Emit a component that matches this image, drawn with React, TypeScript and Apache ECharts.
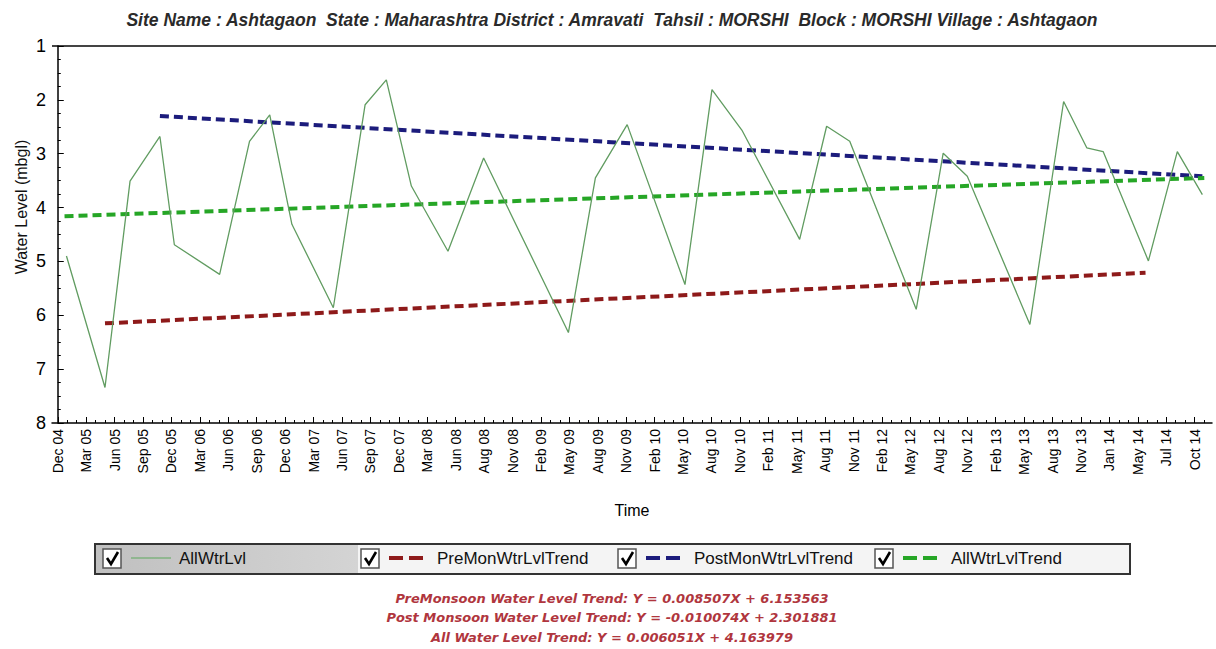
import React, { useEffect, useRef } from 'react';
import * as echarts from 'echarts';

// ---------- data ----------
const titleText =
  'Site Name : Ashtagaon  State : Maharashtra District : Amravati  Tahsil : MORSHI  Block : MORSHI Village : Ashtagaon';

// x-axis tick labels (evenly spaced along the time axis)
const xLabels = [
  'Dec 04', 'Mar 05', 'Jun 05', 'Sep 05', 'Dec 05', 'Mar 06', 'Jun 06', 'Sep 06', 'Dec 06',
  'Mar 07', 'Jun 07', 'Sep 07', 'Dec 07', 'Mar 08', 'Jun 08', 'Aug 08', 'Nov 08', 'Feb 09',
  'May 09', 'Aug 09', 'Nov 09', 'Feb 10', 'May 10', 'Aug 10', 'Nov 10', 'Feb 11', 'May 11',
  'Aug 11', 'Nov 11', 'Feb 12', 'May 12', 'Aug 12', 'Nov 12', 'Feb 13', 'May 13', 'Aug 13',
  'Nov 13', 'Jan 14', 'May 14', 'Jul 14', 'Oct 14',
];
const labelStep = 2.95; // months between labels
const xMin = -0.6; // months since Dec 2004
const xMax = 119.8;

// observed water level (months since Dec 2004, mbgl)
const obsMonths = [
  0.9, 4.9, 7.5, 10.6, 12.1, 16.8, 19.9, 22.0, 24.3, 28.6, 31.9, 34.1, 36.7, 40.5, 44.2,
  53.0, 55.8, 59.1, 65.1, 67.9, 71.0, 77.0, 79.8, 82.2, 89.1, 91.9, 94.4, 100.9, 104.4,
  106.8, 108.5, 113.2, 116.2, 118.8,
];
const obsLevels = [
  4.9, 7.34, 3.51, 2.68, 4.69, 5.24, 2.77, 2.28, 4.31, 5.86, 2.09, 1.63, 3.6, 4.81, 3.08,
  6.32, 3.45, 2.46, 5.43, 1.81, 2.56, 4.59, 2.49, 2.77, 5.89, 2.99, 3.42, 6.17, 2.03,
  2.89, 2.96, 4.99, 2.96, 3.76,
];

// trend lines (start / end)
const preTrendMonths = [4.9, 112.9];
const preTrendLevels = [6.15, 5.21];
const postTrendMonths = [10.6, 118.8];
const postTrendLevels = [2.3, 3.42];
const allTrendMonths = [0.7, 119.0];
const allTrendLevels = [4.16, 3.45];

const seriesNames = ['AllWtrLvl', 'PreMonWtrLvlTrend', 'PostMonWtrLvlTrend', 'AllWtrLvlTrend'];
const seriesColors = ['#619c61', '#8e1a1a', '#1c1c7c', '#26a626'];

const equations = [
  'PreMonsoon Water Level Trend: Y = 0.008507X + 6.153563',
  'Post Monsoon Water Level Trend: Y = -0.010074X + 2.301881',
  'All Water Level Trend: Y = 0.006051X + 4.163979',
];

const yAxisName = 'Water Level (mbgl)';
const xAxisName = 'Time';

// ---------- helpers ----------
const zip = (xs: number[], ys: number[]) => xs.map((x, i) => [x, ys[i]]);

const FONT = '"Liberation Sans", Arial, sans-serif';

function buildLegend() {
  const cbXs = [103, 361, 618, 875];
  const children: any[] = [
    {
      type: 'rect',
      shape: { x: 95, y: 544, width: 1035, height: 30 },
      style: { fill: '#f4f4f4', stroke: '#333', lineWidth: 2 },
    },
    {
      type: 'rect',
      shape: { x: 96, y: 545, width: 262, height: 28 },
      style: {
        fill: new echarts.graphic.LinearGradient(0, 0, 1, 0, [
          { offset: 0, color: '#c0c0c0' },
          { offset: 1, color: '#d4d4d4' },
        ]),
      },
    },
  ];
  seriesNames.forEach((name, i) => {
    const cb = cbXs[i];
    children.push({
      type: 'rect',
      shape: { x: cb, y: 549, width: 18, height: 19 },
      style: { fill: '#fff', stroke: '#555', lineWidth: 1.5 },
    });
    children.push({
      type: 'polyline',
      shape: { points: [[cb + 4, 558], [cb + 8, 564], [cb + 15, 552]] },
      style: { stroke: '#000', lineWidth: 2.6, fill: null },
    });
    children.push({
      type: 'line',
      shape: { x1: cb + 28, y1: 558, x2: cb + (i === 0 ? 68 : 64), y2: 558 },
      style: {
        stroke: i === 0 ? '#7fb27f' : seriesColors[i],
        lineWidth: i === 0 ? 1.5 : 4,
        lineDash: i === 0 ? null : [14, 6],
      },
    });
    children.push({
      type: 'text',
      x: cb + 76,
      y: 558,
      style: {
        text: name,
        fontSize: 17,
        fontFamily: FONT,
        fill: '#111',
        align: 'left',
        verticalAlign: 'middle',
      },
    });
  });
  return { type: 'group', children };
}

export default function App() {
  const ref = useRef<HTMLDivElement>(null);

  useEffect(() => {
    const chart = echarts.init(ref.current!, null, { renderer: 'svg' });
    const labelPos = xLabels.map((_, i) => i * labelStep);
    const minorPos: number[] = [];
    for (let i = 0; i <= (xLabels.length - 1) * 3 + 1; i++) minorPos.push((i * labelStep) / 3);

    const trendLine = (name: string, color: string, data: number[][]) => ({
      name,
      type: 'line',
      data,
      showSymbol: false,
      symbol: 'none',
      lineStyle: { color, width: 4, type: [9, 5], cap: 'butt' },
      z: 2,
    });

    const option: any = {
      animation: false,
      backgroundColor: '#fff',
      grid: { left: 52, right: 4, top: 46, bottom: 226, containLabel: false, show: false },
      xAxis: [
        {
          type: 'value',
          min: xMin,
          max: xMax,
          name: xAxisName,
          nameLocation: 'middle',
          nameGap: 79,
          nameTextStyle: { fontSize: 16, color: '#000', fontFamily: FONT },
          axisLine: { show: true, lineStyle: { color: '#000', width: 1.5 } },
          axisTick: {
            show: true,
            inside: true,
            length: 6,
            customValues: labelPos,
            lineStyle: { color: '#000', width: 1 },
          },
          axisLabel: {
            customValues: labelPos,
            rotate: 90,
            margin: 6,
            fontSize: 14,
            color: '#000',
            fontFamily: FONT,
            formatter: (v: number) => xLabels[Math.round(v / labelStep)] ?? '',
          },
          splitLine: { show: false },
        },
        {
          type: 'value',
          min: xMin,
          max: xMax,
          position: 'bottom',
          axisLine: { show: false },
          axisTick: {
            show: true,
            inside: true,
            length: 3,
            customValues: minorPos,
            lineStyle: { color: '#000', width: 1 },
          },
          axisLabel: { show: false },
          splitLine: { show: false },
        },
      ],
      yAxis: {
        type: 'value',
        inverse: true,
        min: 1,
        max: 8,
        interval: 1,
        axisLine: { show: true, lineStyle: { color: '#000', width: 1.5 } },
        axisTick: { show: true, inside: true, length: 6, lineStyle: { color: '#000' } },
        minorTick: { show: true, splitNumber: 4, length: 3, lineStyle: { color: '#000' } },
        axisLabel: { fontSize: 18, color: '#000', margin: 6, fontFamily: FONT },
        splitLine: { show: false },
        minorSplitLine: { show: false },
      },
      series: [
        trendLine(seriesNames[1], seriesColors[1], zip(preTrendMonths, preTrendLevels)),
        trendLine(seriesNames[2], seriesColors[2], zip(postTrendMonths, postTrendLevels)),
        trendLine(seriesNames[3], seriesColors[3], zip(allTrendMonths, allTrendLevels)),
        {
          name: seriesNames[0],
          type: 'line',
          data: zip(obsMonths, obsLevels),
          showSymbol: false,
          symbol: 'none',
          lineStyle: { color: seriesColors[0], width: 1.3 },
          z: 3,
        },
      ],
      graphic: [
        {
          type: 'text',
          x: 612,
          y: 20,
          style: {
            text: titleText,
            fontSize: 17.5,
            fontStyle: 'italic',
            fontWeight: 'bold',
            fontFamily: FONT,
            fill: '#2a2a2a',
            align: 'center',
            verticalAlign: 'middle',
          },
        },
        {
          type: 'line',
          shape: { x1: 52, y1: 46, x2: 1216, y2: 46 },
          style: { stroke: '#444', lineWidth: 2 },
        },
        {
          type: 'text',
          x: 21,
          y: 207,
          rotation: Math.PI / 2,
          style: {
            text: yAxisName,
            fontSize: 16,
            fontFamily: FONT,
            fill: '#111',
            align: 'center',
            verticalAlign: 'middle',
          },
        },
        buildLegend(),
        ...equations.map((t, i) => ({
          type: 'text',
          x: 612,
          y: 598 + i * 19.5,
          style: {
            text: t,
            fontSize: 13,
            fontStyle: 'italic',
            fontWeight: 'bold',
            fontFamily: '"DejaVu Sans", sans-serif',
            fill: '#b0363e',
            align: 'center',
            verticalAlign: 'middle',
          },
        })),
      ],
    };
    chart.setOption(option);
    return () => chart.dispose();
  }, []);

  return (
    <div
      ref={ref}
      style={{ position: 'absolute', left: 0, top: 0, width: 1216, height: 649 }}
    />
  );
}
